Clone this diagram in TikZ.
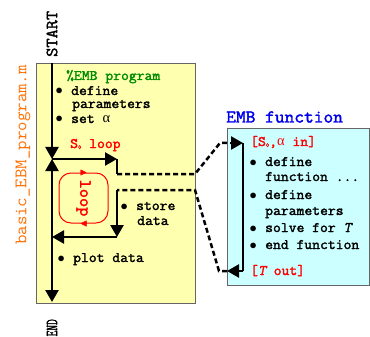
\documentclass[tikz,border=0pt]{standalone}
\usepackage{fontspec}
\setmonofont{Latin Modern Mono}[FakeStretch=1.05,AutoFakeBold=2]
\newfontfamily\bit{Latin Modern Mono}[FakeStretch=1.05,FakeBold=2,FakeSlant=0.22]
\newfontfamily\grk{Liberation Serif}
\usetikzlibrary{arrows.meta}
\definecolor{ylw}{RGB}{255,255,176}
\definecolor{cyn}{RGB}{204,255,255}
\definecolor{grn}{RGB}{0,140,0}
\definecolor{org}{RGB}{255,110,0}
\definecolor{blu}{RGB}{0,0,235}
\newcommand{\al}{{\grk\mdseries α}}
\newcommand{\TT}{{\bit T}}
\newcommand{\Sz}{S\raisebox{-1pt}{\fontsize{6}{6}\selectfont 0}}
\newcommand{\bul}{\makebox[0.551em][c]{$\bullet$}\makebox[0.551em]{}}
\begin{document}
\begin{tikzpicture}[x=1pt,y=-1pt,
  txt/.style={anchor=west,inner sep=0pt,text height=7pt,text depth=1pt,font=\ttfamily\bfseries\fontsize{14.5}{16}\selectfont},
  big/.style={inner sep=0pt,font=\ttfamily\bfseries\fontsize{17}{19}\selectfont},
  flow/.style={line width=2.5pt},
  tip/.style={-{Triangle[length=12pt,width=13pt]}},
  dsh/.style={line width=2.5pt,dash pattern=on 5pt off 3pt},
  panel/.style={draw=gray!80!black,line width=0.8pt,inner sep=0pt,anchor=north west},
]
\useasboundingbox (0,0) rectangle (370,337);
% panels
\node[panel,fill=ylw,minimum width=159pt,minimum height=240pt] (prog) at (36,63) {};
\node[panel,fill=cyn,minimum width=142pt,minimum height=157pt] (fun) at (227,128) {};
% rotated labels
\node[big,rotate=90,anchor=west] (start) at (52,57) {START};
\node[big,rotate=90,anchor=east] (end) at (52,319) {\scalebox{0.62}[1]{END}};
\node[big,rotate=90,text=org,font=\ttfamily\mdseries\fontsize{17.5}{19}\selectfont] (fname) at (23,155) {basic\_EBM\_program.m};
\node[big,anchor=west,text=blu,font=\ttfamily\bfseries\fontsize{18}{20}\selectfont] (ftitle) at (226,117) {EMB function};
% program texts
\node[txt,text=grn] (t1) at (66,77) {\%EMB program};
\node[txt] (t2) at (55,92) {\bul define};
\node[txt] (t3) at (72,105) {parameters};
\node[txt] (t4) at (55,120) {\bul set \al};
\node[txt,text=red] (t5) at (70,145) {\Sz{} loop};
\node[txt] (t6) at (120,207) {\bul store};
\node[txt] (t7) at (137,222) {data};
\node[txt] (t8) at (57,259) {\bul plot data};
% function texts
\node[txt,text=red] (f1) at (250,143) {[\Sz,\al{} in]};
\node[txt] (f2) at (249,163) {\bul define};
\node[txt] (f3) at (265,178) {function ...};
\node[txt] (f4) at (249,196) {\bul define};
\node[txt] (f5) at (265,212) {parameters};
\node[txt] (f6) at (249,229) {\bul solve for \TT};
\node[txt] (f7) at (249,246) {\bul end function};
\node[txt,text=red] (f8) at (250,272) {[\TT{} out]};
% red loop
\node[draw=red,line width=1pt,rounded corners=12pt,minimum width=49pt,minimum height=50pt,inner sep=0pt] (rl) at (83.5,198) {};
\node[rotate=-90,text=red,inner sep=0pt,font=\ttfamily\bfseries\fontsize{17}{19}\selectfont] (ltxt) at (83.5,198) {loop};
\draw[red,-{Triangle[length=6pt,width=6pt]}] (rl.north) -- ++(3,0);
\draw[red,-{Triangle[length=6pt,width=6pt]}] (rl.south) -- ++(-3,0);
% flow coordinates
\coordinate (top) at (52,63);
\coordinate (j1) at (52,159);
\coordinate (s1) at (117,159);
\coordinate (s2) at (117,174);
\coordinate (d1) at (195,174);
\coordinate (d2) at (220,143);
\coordinate (d3) at (230,143);
\coordinate (v1) at (243,143);
\coordinate (v2) at (243,271);
\coordinate (v3) at (227,271);
\coordinate (d4) at (219,271);
\coordinate (d5) at (195,190);
\coordinate (r1) at (117,190);
\coordinate (r2) at (117,237);
\coordinate (r3) at (52,237);
\coordinate (bot) at (52,302);
% flow
\draw[flow,tip] (top) -- (j1);
\draw[flow,tip] (j1) -- (s1);
\draw[flow] (s1) -- (s2);
\draw[dsh] (s2) -- (d1) -- (d2) -- (d3);
\draw[flow,tip] (d3) -- (v1);
\draw[flow] (v1) -- (v2);
\draw[flow,tip] (v2) -- (v3);
\draw[dsh] (v3) -- (d4) -- (d5) -- (r1);
\draw[flow,tip] (r1) -- (r2);
\draw[flow,tip] (r2) -- (r3);
\draw[flow,{Triangle[length=12pt,width=13pt]}-{Triangle[length=12pt,width=13pt]}] (j1) -- (bot);
\end{tikzpicture}
\end{document}
